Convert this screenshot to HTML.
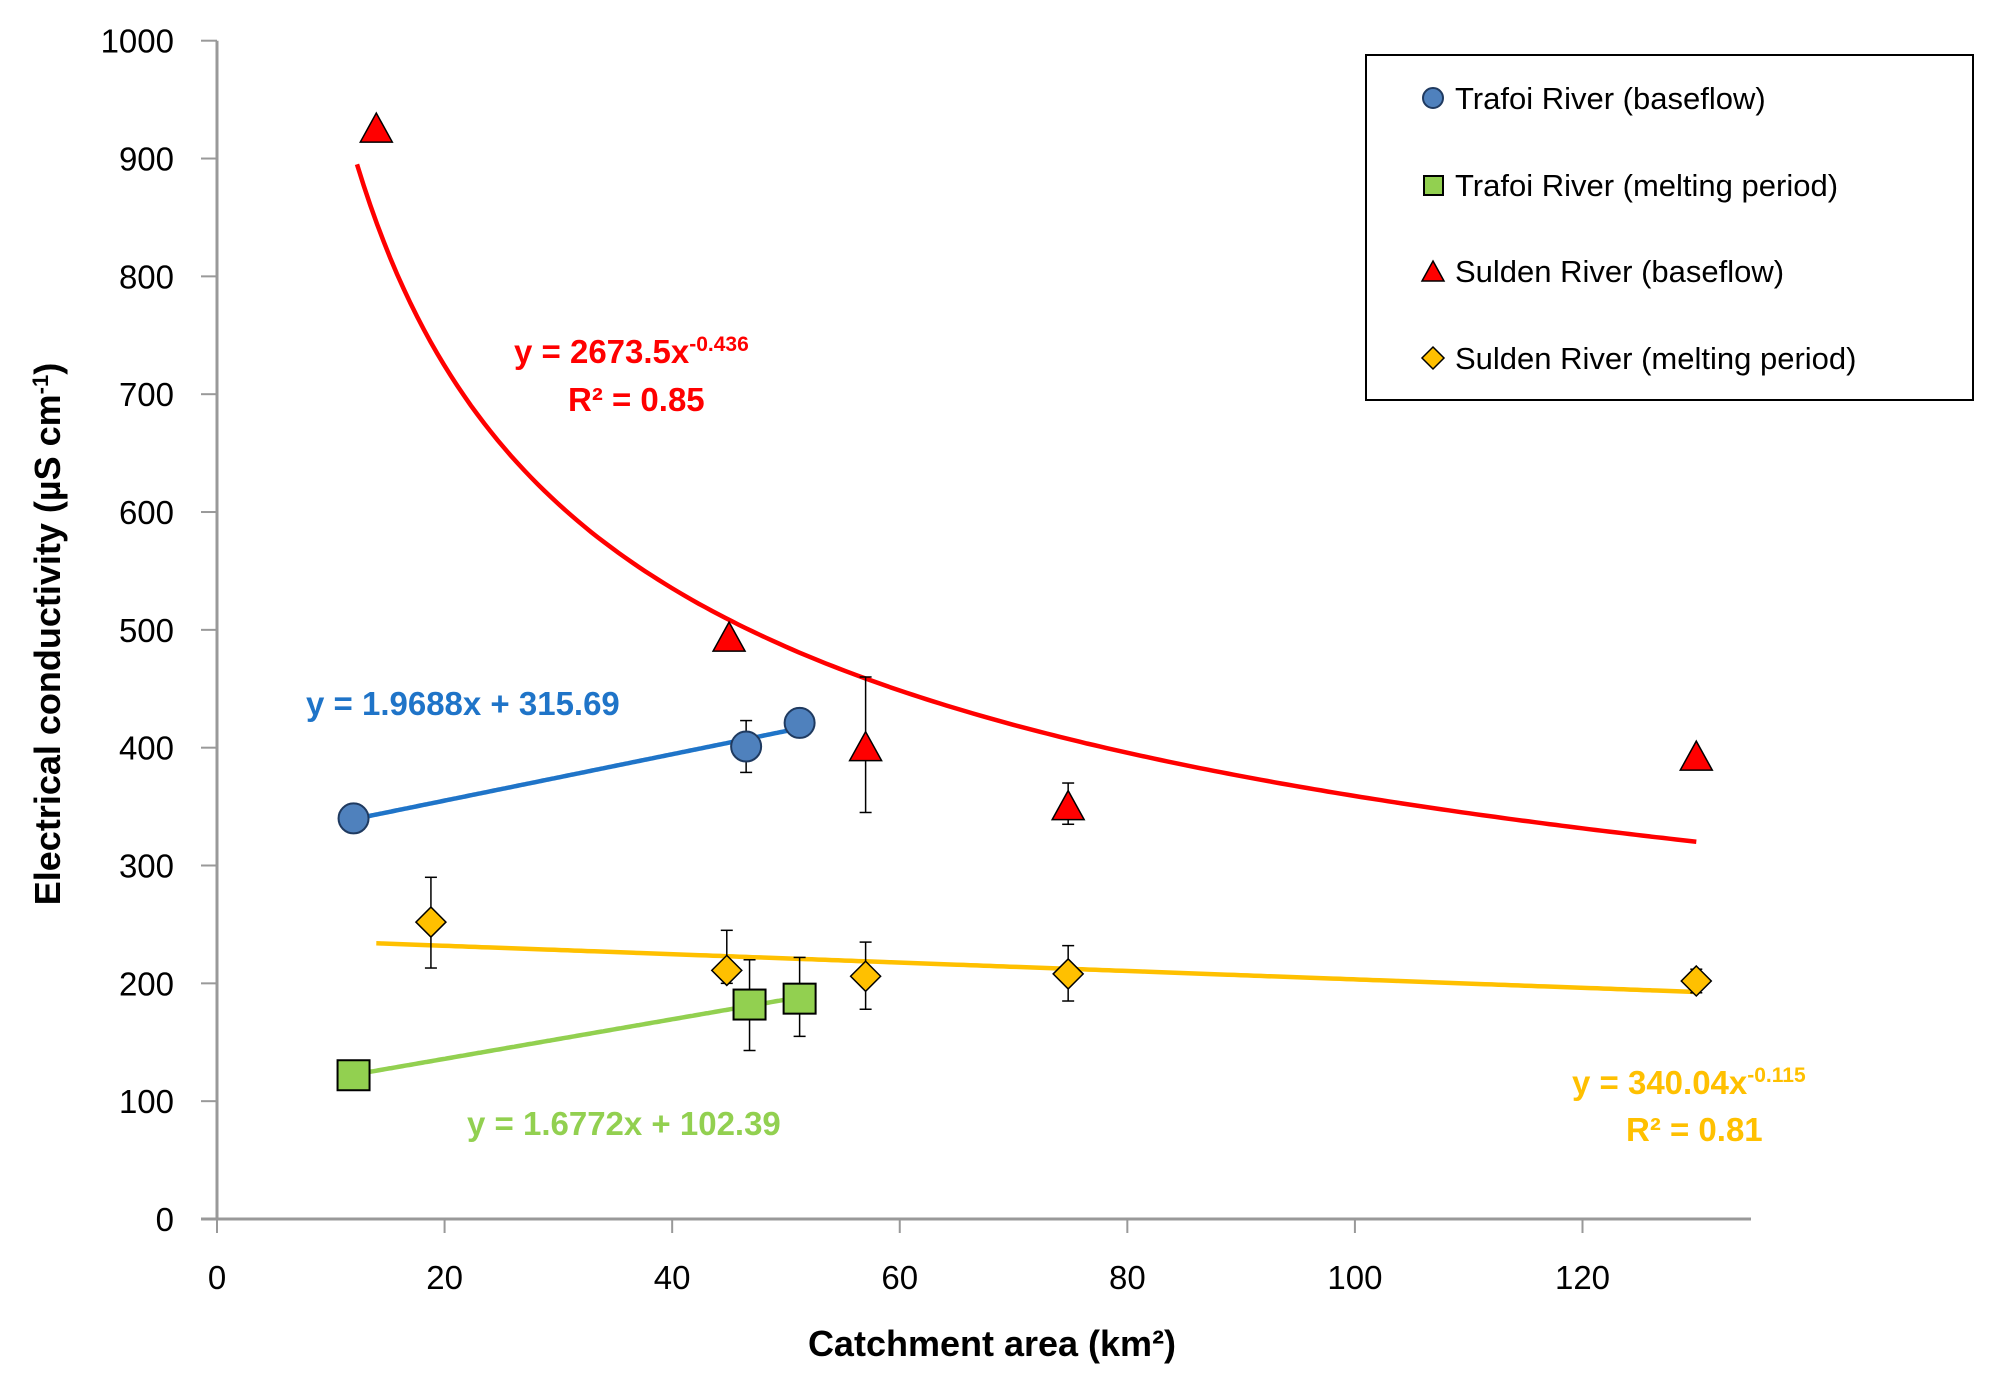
<!DOCTYPE html>
<html><head><meta charset="utf-8"><style>
html,body{margin:0;padding:0;background:#fff;}
svg{display:block;font-family:"Liberation Sans",sans-serif;}
</style></head><body>
<svg id="chart" width="1991" height="1391" viewBox="0 0 1991 1391">
<g id="axes"></g>
<g id="trends"></g>
<g id="marks"></g>
<g id="labels" font-weight="bold" font-size="33">
<text x="514" y="363" fill="#ff0000">y = 2673.5x<tspan font-size="21" dy="-12">-0.436</tspan></text>
<text x="568" y="411" fill="#ff0000">R² = 0.85</text>
<text x="306" y="715" fill="#1f74c8">y = 1.9688x + 315.69</text>
<text x="467" y="1135" fill="#92d050">y = 1.6772x + 102.39</text>
<text x="1572" y="1094" fill="#ffc000">y = 340.04x<tspan font-size="21" dy="-12">-0.115</tspan></text>
<text x="1626" y="1141" fill="#ffc000">R² = 0.81</text>
</g>
<text x="992" y="1356" font-size="36" font-weight="bold" text-anchor="middle">Catchment area (km²)</text>
<text transform="translate(60,634) rotate(-90)" font-size="36" font-weight="bold" text-anchor="middle">Electrical conductivity (µS cm<tspan font-size="22" dy="-12">-1</tspan><tspan dy="12">)</tspan></text>
<g>
<rect x="1366" y="55" width="607" height="345" fill="#fff" stroke="#000" stroke-width="2"/>
<g font-size="31">
<circle cx="1433" cy="98" r="10" fill="#4f81bd" stroke="#1f3a60" stroke-width="2"/>
<text x="1455" y="109">Trafoi River (baseflow)</text>
<rect x="1424" y="176" width="19" height="19" fill="#92d050" stroke="#000" stroke-width="2"/>
<text x="1455" y="196">Trafoi River (melting period)</text>
<polygon points="1433,261 1444,281 1422,281" fill="#ff0000" stroke="#000" stroke-width="1.5"/>
<text x="1455" y="282">Sulden River (baseflow)</text>
<polygon points="1433,347 1444,358 1433,369 1422,358" fill="#ffc000" stroke="#000" stroke-width="1.5"/>
<text x="1455" y="369">Sulden River (melting period)</text>
</g></g>
</svg>
<script>
const xTicks=[0,20,40,60,80,100,120];
const yTicks=[0,100,200,300,400,500,600,700,800,900,1000];
const tbX=[12,46.5,51.2];
const tbY=[340,401,421];
const tbErr=[0,22,0];
const tmX=[12,46.8,51.2];
const tmY=[122,182,187];
const tmLo=[122,143,155];
const tmHi=[122,220,222];
const sbX=[14,45,57,74.8,130];
const sbY=[925,493,400,350,392];
const sbLo=[925,493,345,335,392];
const sbHi=[925,493,460,370,392];
const smX=[18.8,44.8,57,74.8,130];
const smY=[252,211,206,208,202];
const smLo=[213,200,178,185,192];
const smHi=[290,245,235,232,212];
const NS='http://www.w3.org/2000/svg';
const X0=217,XS=(1582.5-217)/120,Y0=1219,YS=(1219-40.7)/1000;
const sx=v=>X0+v*XS, sy=v=>Y0-v*YS;
function mk(tag,attrs,parent){const e=document.createElementNS(NS,tag);for(const k in attrs)e.setAttribute(k,attrs[k]);parent.appendChild(e);return e;}
const axes=document.getElementById('axes'),trends=document.getElementById('trends'),marks=document.getElementById('marks');
let a=mk('line',{x1:sx(0),y1:sy(0),x2:sx(0),y2:sy(1000),stroke:'#999','stroke-width':3},axes);


a=mk('line',{x1:sx(0)-16,y1:sy(0),x2:1751,y2:sy(0),stroke:'#999','stroke-width':3},axes);


yTicks.forEach(t=>{
 const l=mk('line',{x1:sx(0)-16,y1:sy(t),x2:sx(0),y2:sy(t),stroke:'#999','stroke-width':2},axes);
 
 
 const tx=mk('text',{x:sx(0)-43,y:sy(t)+12,'font-size':33,'text-anchor':'end'},axes);tx.textContent=t;
 
 
});
xTicks.forEach(t=>{
 const l=mk('line',{x1:sx(t),y1:sy(0),x2:sx(t),y2:sy(0)+14,stroke:'#999','stroke-width':2},axes);
 
 
 const tx=mk('text',{x:sx(t),y:sy(0)+70,'font-size':33,'text-anchor':'middle'},axes);tx.textContent=t;
 
 
});
function curve(f,x1,x2,col,name){let d='';for(let i=0;i<=200;i++){const x=x1+(x2-x1)*i/200;d+=(i?'L':'M')+sx(x).toFixed(1)+','+sy(f(x)).toFixed(1);}
 const p=mk('path',{d:d,fill:'none',stroke:col,'stroke-width':4.5},trends);
 
 }
function linFit(xs,ys){const n=xs.length;const mx=xs.reduce((s,v)=>s+v,0)/n,my=ys.reduce((s,v)=>s+v,0)/n;let sxy=0,sxx=0;xs.forEach((x,i)=>{sxy+=(x-mx)*(ys[i]-my);sxx+=(x-mx)*(x-mx);});const b=sxy/sxx;return x=>my+b*(x-mx);}
curve(x=>2673.5*Math.pow(x,-0.436),12.3,130,'#ff0000','sulden-baseflow-trend');
curve(linFit(smX,smY),14,130,'#ffc000','sulden-melting-trend');
curve(x=>1.9688*x+315.69,12,51.2,'#1f74c8','trafoi-baseflow-trend');
curve(x=>1.6772*x+102.39,12,51.2,'#92d050','trafoi-melting-trend');
function err(x,lo,hi){if(hi-lo<1)return;const c=sx(x);
 const g=mk('g',{stroke:'#000','stroke-width':1.5},marks);
 
 
 mk('line',{x1:c,y1:sy(lo),x2:c,y2:sy(hi)},g);
 mk('line',{x1:c-6,y1:sy(lo),x2:c+6,y2:sy(lo)},g);
 mk('line',{x1:c-6,y1:sy(hi),x2:c+6,y2:sy(hi)},g);}
tbX.forEach((x,i)=>err(x,tbY[i]-tbErr[i],tbY[i]+tbErr[i]));
tmX.forEach((x,i)=>err(x,tmLo[i],tmHi[i]));
sbX.forEach((x,i)=>err(x,sbLo[i],sbHi[i]));
smX.forEach((x,i)=>err(x,smLo[i],smHi[i]));
tbX.forEach((x,i)=>{const c=mk('circle',{cx:sx(x),cy:sy(tbY[i]),r:15,fill:'#4f81bd',stroke:'#1f3a60','stroke-width':2},marks);
 
 });
tmX.forEach((x,i)=>{const r=mk('rect',{x:sx(x)-16,y:sy(tmY[i])-15,width:32,height:30,fill:'#92d050',stroke:'#000','stroke-width':2},marks);
 
 });
sbX.forEach((x,i)=>{const cx=sx(x),cy=sy(sbY[i]);const p=mk('polygon',{points:`${cx},${cy-16} ${cx+16},${cy+13} ${cx-16},${cy+13}`,fill:'#ff0000',stroke:'#000','stroke-width':1.5},marks);
 
 });
smX.forEach((x,i)=>{const cx=sx(x),cy=sy(smY[i]);const p=mk('polygon',{points:`${cx},${cy-15} ${cx+15},${cy} ${cx},${cy+15} ${cx-15},${cy}`,fill:'#ffc000',stroke:'#000','stroke-width':1.5},marks);
 
 });
</script>
</body></html>
